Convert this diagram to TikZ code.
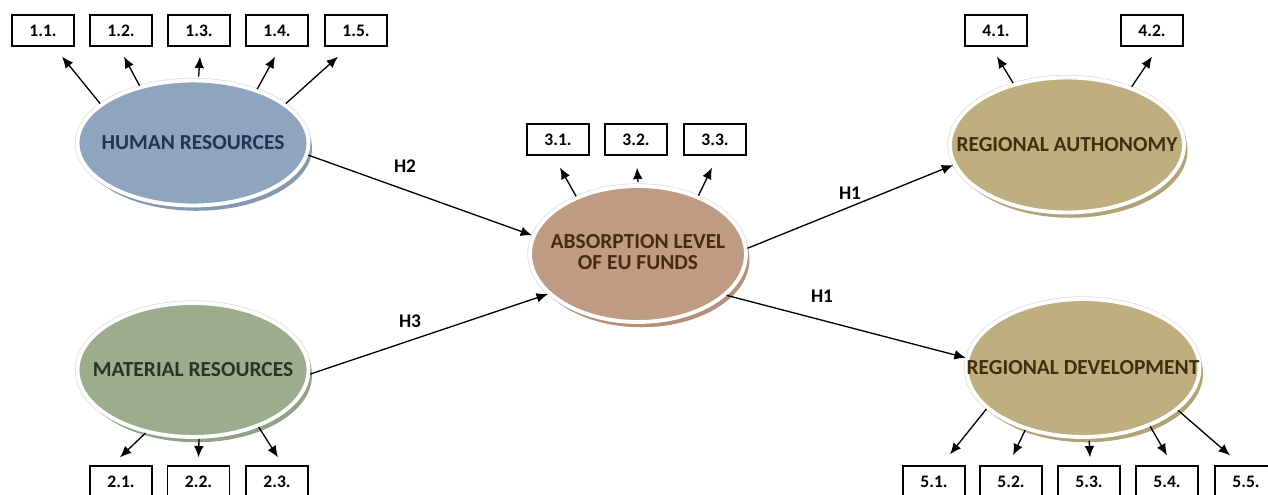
\documentclass[tikz,border=0pt]{standalone}
\usepackage{fontspec}
\setmainfont{Carlito}
\usetikzlibrary{arrows.meta,calc,shadows,shapes.geometric}
\definecolor{hrfill}{HTML}{8DA5BE}
\definecolor{hrtext}{HTML}{1F3553}
\definecolor{hrdark}{HTML}{8499B0}
\definecolor{mrfill}{HTML}{9CAD8E}
\definecolor{mrtext}{HTML}{263620}
\definecolor{mrdark}{HTML}{91A183}
\definecolor{abfill}{HTML}{C09B83}
\definecolor{abtext}{HTML}{4A2812}
\definecolor{abdark}{HTML}{B39079}
\definecolor{rgfill}{HTML}{BFAE7E}
\definecolor{rgtext}{HTML}{3D3010}
\definecolor{rgdark}{HTML}{B2A275}
\begin{document}
\begin{tikzpicture}[x=0.02cm,y=-0.02cm,
  ind/.style={draw=black, line width=0.7pt, fill=white, minimum width=1.24cm,
    minimum height=0.62cm, inner sep=0pt, font=\fontsize{10}{11}\selectfont\bfseries},
  lat/.style={ellipse, draw=white, line width=2.2pt, inner sep=0pt,
    preaction={draw=black!14, line width=3pt},
    font=\fontsize{12.2}{13}\selectfont\bfseries},
  arr/.style={draw=black, line width=0.75pt, -{Latex[length=6.5pt,width=5.5pt]}},
  hlab/.style={font=\fontsize{11}{12}\selectfont\bfseries, inner sep=0pt}]
\useasboundingbox (0,0) rectangle (1268,494);
% latent variables
\node[lat, fill=hrfill, text=hrtext, minimum width=4.62cm, minimum height=2.5cm,
  drop shadow={shadow xshift=2pt, shadow yshift=-3pt, fill=hrdark, opacity=1}]
  (hr) at (193,143) {\makebox[0pt]{HUMAN RESOURCES}};
\node[lat, fill=mrfill, text=mrtext, minimum width=4.62cm, minimum height=2.68cm,
  drop shadow={shadow xshift=2pt, shadow yshift=-3pt, fill=mrdark, opacity=1}]
  (mr) at (193,370) {\makebox[0pt]{MATERIAL RESOURCES}};
\node[lat, fill=abfill, text=abtext, minimum width=4.32cm, minimum height=2.72cm,
  drop shadow={shadow xshift=2pt, shadow yshift=-3pt, fill=abdark, opacity=1}]
  (ab) at (638,254) {\makebox[0pt]{\setlength{\tabcolsep}{0pt}\begin{tabular}{c}ABSORPTION LEVEL\\[-1pt]OF EU FUNDS\end{tabular}}};
\node[lat, fill=rgfill, text=rgtext, minimum width=4.68cm, minimum height=2.7cm,
  drop shadow={shadow xshift=2pt, shadow yshift=-3pt, fill=rgdark, opacity=1}]
  (ra) at (1067,145) {\makebox[0pt]{REGIONAL AUTHONOMY}};
\node[lat, fill=rgfill, text=rgtext, minimum width=4.66cm, minimum height=2.76cm,
  drop shadow={shadow xshift=2pt, shadow yshift=-3pt, fill=rgdark, opacity=1}]
  (rd) at (1083,368) {\makebox[0pt]{REGIONAL DEVELOPMENT}};
% indicator boxes
\node[ind] (b11) at (43,30.5) {1.1.};
\node[ind] (b12) at (121,30.5) {1.2.};
\node[ind] (b13) at (199,30.5) {1.3.};
\node[ind] (b14) at (277,30.5) {1.4.};
\node[ind] (b15) at (356,30.5) {1.5.};
\node[ind] (b21) at (121,481.5) {2.1.};
\node[ind] (b22) at (198.5,481.5) {2.2.};
\node[ind] (b23) at (277,481.5) {2.3.};
\node[ind] (b31) at (558,139.5) {3.1.};
\node[ind] (b32) at (636,139.5) {3.2.};
\node[ind] (b33) at (715,139.5) {3.3.};
\node[ind] (b41) at (996,30.5) {4.1.};
\node[ind] (b42) at (1152,30.5) {4.2.};
\node[ind] (b51) at (934,481.5) {5.1.};
\node[ind] (b52) at (1011,481.5) {5.2.};
\node[ind] (b53) at (1089,481.5) {5.3.};
\node[ind] (b54) at (1167,481.5) {5.4.};
\node[ind] (b55) at (1246,481.5) {5.5.};
% structural paths
\draw[arr] (hr.-6) -- (ab.170);
\draw[arr] (mr.-2) -- (ab.204);
\draw[arr] (ab.3) -- (ra.190);
\draw[arr] (ab.-25) -- (rd.175);
\node[hlab] (h2) at (405,166) {H2};
\node[hlab] (h3) at (410,321) {H3};
\node[hlab] (h1a) at (850,193) {H1};
\node[hlab] (h1b) at (822,296) {H1};
% measurement arrows
\draw[arr] (hr.157) -- ($(b11.south)+(19,10)$);
\draw[arr] (hr.133) -- ($(b12.south)+(3,10)$);
\draw[arr] ($(hr.85)+(0,-2)$) -- ($(b13.south)+(1,10)$);
\draw[arr] (hr.40) -- ($(b14.south)+(-2,10)$);
\draw[arr] (hr.23) -- ($(b15.south)+(-18,10)$);
\draw[arr] (mr.-127) -- ($(b21.north)+(-1,-8)$);
\draw[arr] (mr.-85) -- ($(b22.north)+(0,-8)$);
\draw[arr] (mr.-41) -- ($(b23.north)+(1,-8)$);
\draw[arr] (ab.137) -- ($(b31.south)+(2,12)$);
\draw[arr] ($(ab.90)+(0,-2)$) -- ($(b32.south)+(1,12)$);
\draw[arr] (ab.44) -- ($(b33.south)+(-3,12)$);
\draw[arr] (ra.131) -- ($(b41.south)+(1,10)$);
\draw[arr] (ra.42) -- ($(b42.south)+(0,10)$);
\draw[arr] (rd.-157) -- ($(b51.north)+(16,-11)$);
\draw[arr] (rd.-133) -- ($(b52.north)+(2,-10)$);
\draw[arr] ($(rd.-85)+(0,2)$) -- ($(b53.north)+(1,-8)$);
\draw[arr] (rd.-41) -- ($(b54.north)+(0,-10)$);
\draw[arr] (rd.-24) -- ($(b55.north)+(-16,-10)$);
\end{tikzpicture}
\end{document}
